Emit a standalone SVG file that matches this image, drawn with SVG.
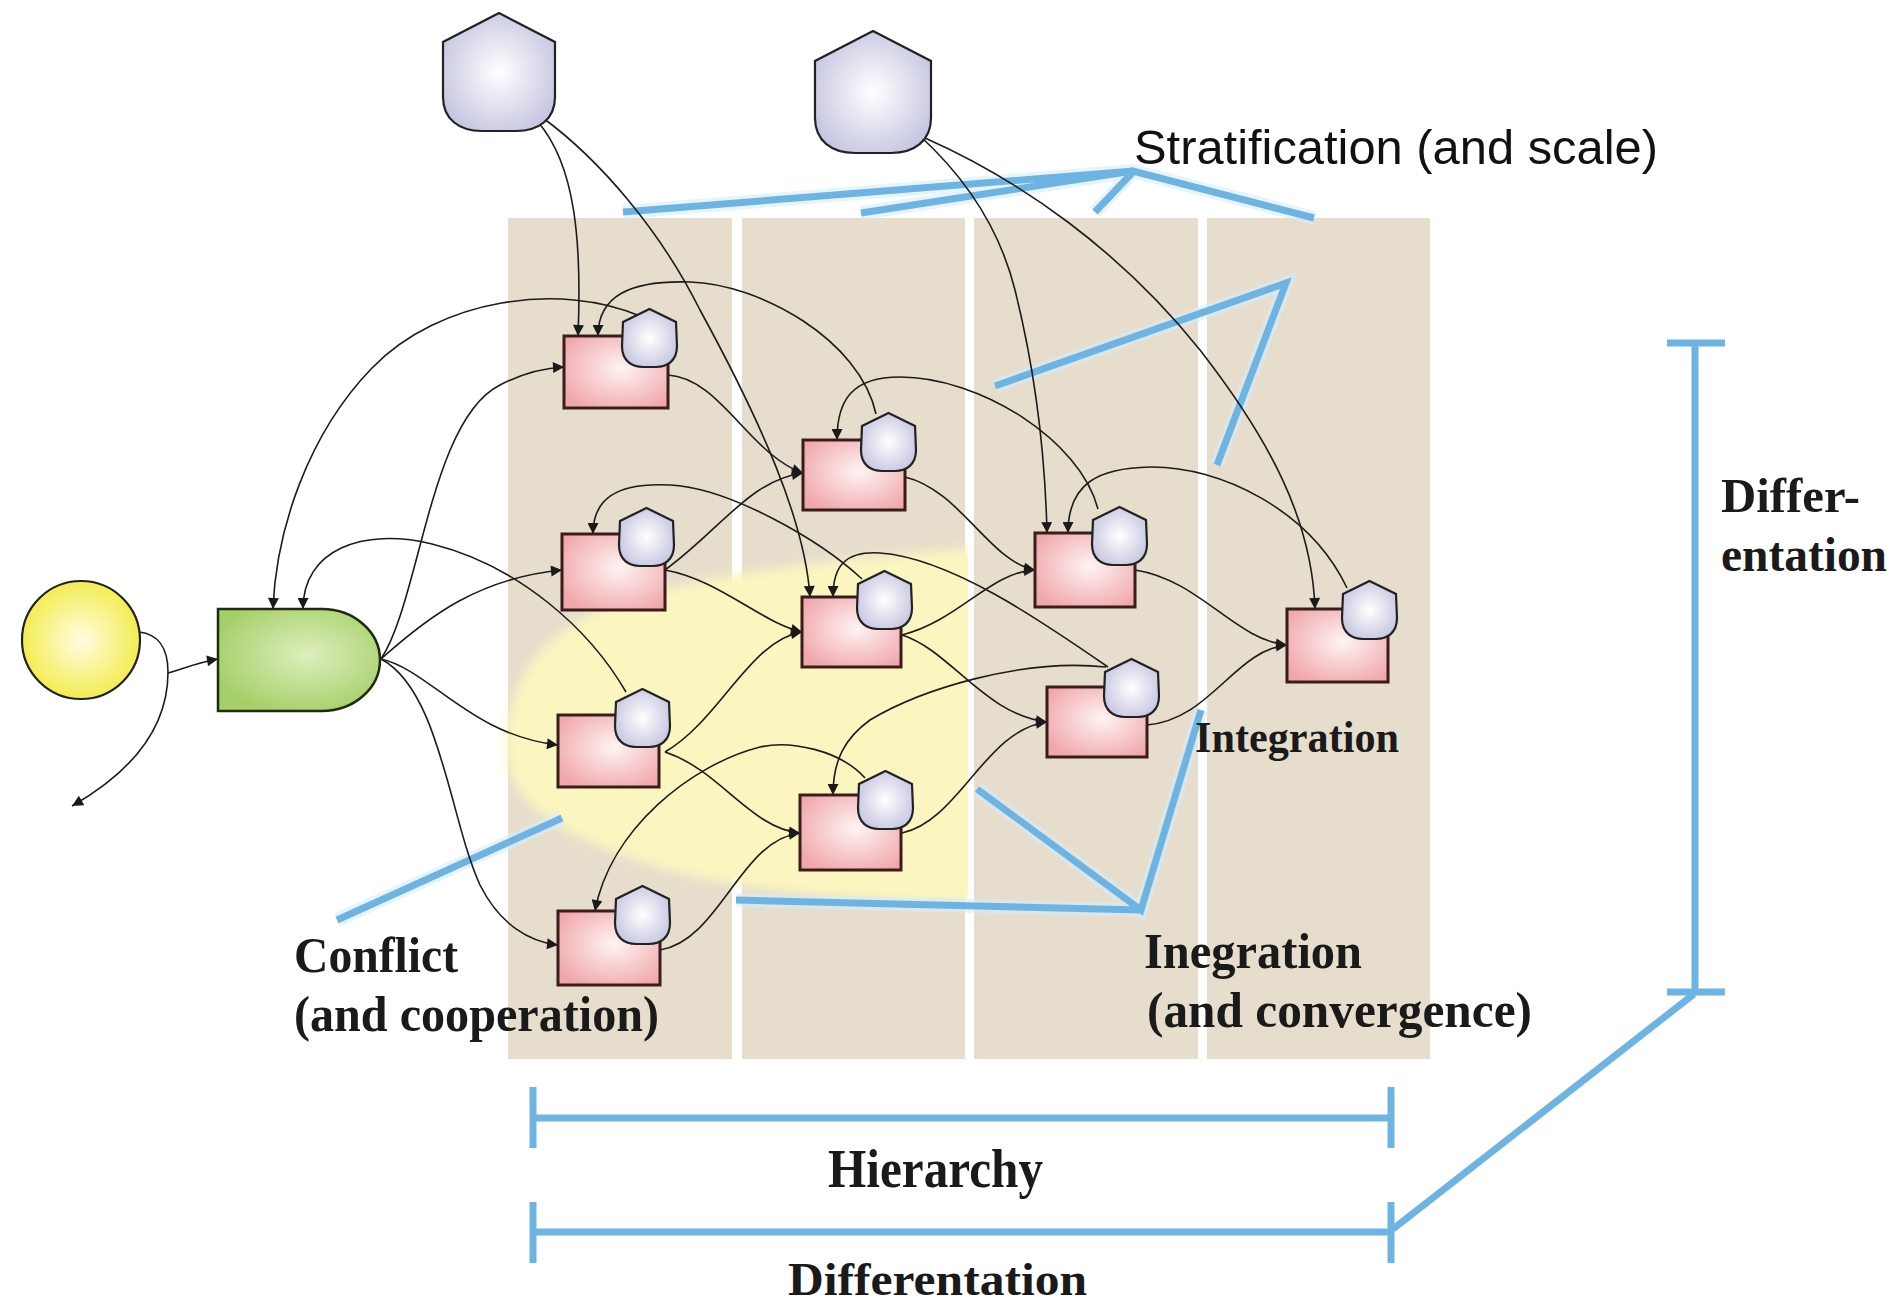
<svg xmlns="http://www.w3.org/2000/svg" width="1897" height="1306" viewBox="0 0 1897 1306">
<style>
.strip{fill:#e6ddcc}
.blue{fill:none;stroke:#6eb4e2;stroke-width:7;stroke-linecap:butt;stroke-linejoin:miter}
.halo{fill:none;stroke:#d6ecf8;stroke-width:14;opacity:0.6}
.con{fill:none;stroke:#1c1c1c;stroke-width:1.6;marker-end:url(#ah)}
.box{fill:url(#pinkG);stroke:#3a1c1c;stroke-width:3}
.pent{fill:url(#lavG);stroke:#222;stroke-width:2.2}
.serif{font-family:"Liberation Serif","Times New Roman",serif;font-weight:bold;fill:#1a1a1a}
.sans{font-family:"Liberation Sans",Arial,sans-serif;fill:#111}
</style>
<defs>
<radialGradient id="pinkG" cx="0.55" cy="0.45" r="0.65"><stop offset="0" stop-color="#fff3f3"/><stop offset="1" stop-color="#f0a6aa"/></radialGradient>
<radialGradient id="lavG" cx="0.5" cy="0.5" r="0.6"><stop offset="0" stop-color="#ffffff"/><stop offset="1" stop-color="#c2c2df"/></radialGradient>
<radialGradient id="greenG" cx="0.55" cy="0.45" r="0.6"><stop offset="0" stop-color="#deefbd"/><stop offset="1" stop-color="#a5cf69"/></radialGradient>
<radialGradient id="yelG" cx="0.5" cy="0.5" r="0.6"><stop offset="0" stop-color="#fffde2"/><stop offset="1" stop-color="#f1e936"/></radialGradient>
<filter id="blur" x="-10%" y="-10%" width="120%" height="120%"><feGaussianBlur stdDeviation="6"/></filter>
<clipPath id="yclip"><rect x="490" y="520" width="478" height="400"/></clipPath>
<marker id="ah" viewBox="0 0 10 10" refX="10" refY="5" markerWidth="13" markerHeight="11" markerUnits="userSpaceOnUse" orient="auto"><path d="M0,0 L10,5 L0,10 Z" fill="#1a1a1a"/></marker>
<path id="sp" d="M27.5,0 L54,13 L55,37 C55,52 45,58 34,58 L21,58 C10,58 0,52 0,37 L1,13 Z"/>
</defs>
<rect width="1897" height="1306" fill="#ffffff"/>

<g id="strips">
<rect class="strip" x="508" y="218" width="224" height="841"/>
<rect class="strip" x="742" y="218" width="223" height="841"/>
<rect class="strip" x="974" y="218" width="224" height="841"/>
<rect class="strip" x="1207" y="218" width="223" height="841"/>
</g>

<g id="conflict-area" clip-path="url(#yclip)">
<path d="M507,760 C500,700 530,640 600,610 C680,578 800,562 975,548 L975,903 C880,903 800,895 720,882 C620,862 514,822 507,760 Z" fill="#fbf6bf" filter="url(#blur)"/>
</g>

<g id="blue-lines">
<path class="halo" d="M623,212 L1133,171 L1314,218 M861,213 L1133,171 M1095,212 L1133,172"/>
<path class="blue" d="M623,212 L1133,171 L1314,218 M861,213 L1133,171 M1095,212 L1133,172"/>
<path class="halo" d="M995,386 L1286,283 L1217,465"/>
<path class="blue" d="M995,386 L1286,283 L1217,465"/>
<path class="halo" d="M736,900 L1141,910 M977,789 L1141,910 L1201,710"/>
<path class="blue" d="M736,900 L1141,910 M977,789 L1141,910 L1201,710"/>
<path class="halo" d="M337,920 L562,818"/>
<path class="blue" d="M337,920 L562,818"/>
<path class="blue" d="M1695,343 L1695,992 M1667,343 L1725,343 M1667,992 L1725,992 M1694,994 L1393,1229"/>
<path class="blue" d="M533,1118 L1391,1118 M533,1087 L533,1148 M1391,1087 L1391,1148"/>
<path class="blue" d="M533,1232 L1391,1232 M533,1202 L533,1263 M1391,1202 L1391,1263"/>
</g>

<g id="connectors">
<path class="con" d="M640,316 C560,282 440,298 372,368 C308,434 276,530 273,609"/>
<path class="con" d="M626,692 C590,630 520,566 432,544 C362,527 303,550 303,609"/>
<path class="con" d="M538,122 C575,165 582,240 578,336"/>
<path class="con" d="M876,414 C860,340 760,284 690,282 C630,280 598,296 598,336"/>
<path class="con" d="M543,118 C600,160 660,230 700,310 C760,420 805,520 810,597"/>
<path class="con" d="M862,579 C820,540 730,488 670,485 C615,482 593,500 593,534"/>
<path class="con" d="M1098,509 C1080,440 980,377 900,377 C852,377 837,400 837,440"/>
<path class="con" d="M1108,667 C1040,620 950,558 880,553 C846,551 833,565 833,597"/>
<path class="con" d="M920,136 C968,180 1000,230 1015,290 C1035,370 1045,450 1047,533"/>
<path class="con" d="M1347,588 C1310,510 1220,466 1150,467 C1100,468 1068,482 1068,533"/>
<path class="con" d="M925,138 C1020,180 1120,250 1200,350 C1270,440 1312,520 1315,609"/>
<path class="con" d="M1106,667 C1020,658 920,690 870,720 C845,738 833,760 833,795"/>
<path class="con" d="M865,778 C840,750 790,740 760,747 C690,765 610,830 595,911"/>
<path class="con" d="M381,659 C420,600 430,420 500,385 C525,372 545,368 564,367"/>
<path class="con" d="M381,659 C430,615 480,578 562,570"/>
<path class="con" d="M381,659 C430,670 470,735 558,745"/>
<path class="con" d="M381,659 C440,690 450,820 480,885 C500,925 530,942 558,945"/>
<path class="con" d="M668,375 C720,378 750,455 803,473"/>
<path class="con" d="M665,570 C720,530 750,480 803,473"/>
<path class="con" d="M665,570 C720,580 760,622 802,632"/>
<path class="con" d="M665,752 C720,720 750,640 802,632"/>
<path class="con" d="M665,752 C720,770 750,828 800,833"/>
<path class="con" d="M660,950 C720,940 740,840 800,833"/>
<path class="con" d="M905,477 C960,490 990,562 1035,570"/>
<path class="con" d="M902,635 C960,620 990,572 1035,570"/>
<path class="con" d="M902,635 C950,650 985,715 1047,722"/>
<path class="con" d="M902,833 C960,820 985,730 1047,722"/>
<path class="con" d="M1135,570 C1200,580 1235,640 1287,645"/>
<path class="con" d="M1147,725 C1210,720 1235,650 1287,645"/>
<path class="con" d="M139,632 C158,634 168,648 168,672 C168,725 135,770 72,806"/>
<path class="con" d="M168,673 C185,668 200,662 218,659"/>
</g>

<g id="source-circle"><circle cx="81" cy="640" r="59" fill="url(#yelG)" stroke="#222" stroke-width="2.2"/></g>
<g id="green-node"><path d="M218,609 H322 A58,51 0 0 1 322,711 H218 Z" fill="url(#greenG)" stroke="#1f2a10" stroke-width="2.5"/></g>

<g id="top-pentagon-1"><path class="pent" d="M499,13 L555,42 L555,97 C555,119 539,131 516,131 L482,131 C459,131 443,119 443,97 L443,42 Z"/></g>
<g id="top-pentagon-2"><path class="pent" d="M873,31 L931,61 L931,118 C931,141 914,153 891,153 L855,153 C832,153 815,141 815,118 L815,61 Z"/></g>

<g id="node-A"><rect class="box" x="564" y="336" width="104" height="72"/><use href="#sp" class="pent" x="622" y="309"/></g>
<g id="node-B"><rect class="box" x="803" y="440" width="102" height="70"/><use href="#sp" class="pent" x="861" y="413"/></g>
<g id="node-C"><rect class="box" x="562" y="534" width="103" height="76"/><use href="#sp" class="pent" x="619" y="508"/></g>
<g id="node-D"><rect class="box" x="802" y="597" width="99" height="70"/><use href="#sp" class="pent" x="857" y="571"/></g>
<g id="node-E"><rect class="box" x="1035" y="533" width="100" height="74"/><use href="#sp" class="pent" x="1092" y="507"/></g>
<g id="node-F"><rect class="box" x="558" y="715" width="101" height="72"/><use href="#sp" class="pent" x="615" y="689"/></g>
<g id="node-I"><rect class="box" x="800" y="795" width="101" height="75"/><use href="#sp" class="pent" x="858" y="771"/></g>
<g id="node-J"><rect class="box" x="558" y="911" width="102" height="74"/><use href="#sp" class="pent" x="615" y="886"/></g>
<g id="node-K"><rect class="box" x="1047" y="687" width="100" height="70"/><use href="#sp" class="pent" x="1104" y="659"/></g>
<g id="node-H"><rect class="box" x="1287" y="609" width="101" height="73"/><use href="#sp" class="pent" x="1342" y="581"/></g>

<g id="labels">
<text class="sans" x="1134" y="164" font-size="48" textLength="524" lengthAdjust="spacingAndGlyphs">Stratification (and scale)</text>
<text class="serif" x="1721" y="512" font-size="48" textLength="139" lengthAdjust="spacingAndGlyphs">Differ-</text>
<text class="serif" x="1721" y="571" font-size="48" textLength="166" lengthAdjust="spacingAndGlyphs">entation</text>
<text class="serif" x="1195" y="752" font-size="44" textLength="204" lengthAdjust="spacingAndGlyphs">Integration</text>
<text class="serif" x="1144" y="968" font-size="50" textLength="218" lengthAdjust="spacingAndGlyphs">Inegration</text>
<text class="serif" x="1147" y="1027" font-size="50" textLength="385" lengthAdjust="spacingAndGlyphs">(and convergence)</text>
<text class="serif" x="294" y="972" font-size="51" textLength="164" lengthAdjust="spacingAndGlyphs">Conflict</text>
<text class="serif" x="294" y="1031" font-size="51" textLength="365" lengthAdjust="spacingAndGlyphs">(and cooperation)</text>
<text class="serif" x="828" y="1187" font-size="54" textLength="215" lengthAdjust="spacingAndGlyphs">Hierarchy</text>
<text class="serif" x="788" y="1295" font-size="46" textLength="299" lengthAdjust="spacingAndGlyphs">Differentation</text>
</g>
</svg>
